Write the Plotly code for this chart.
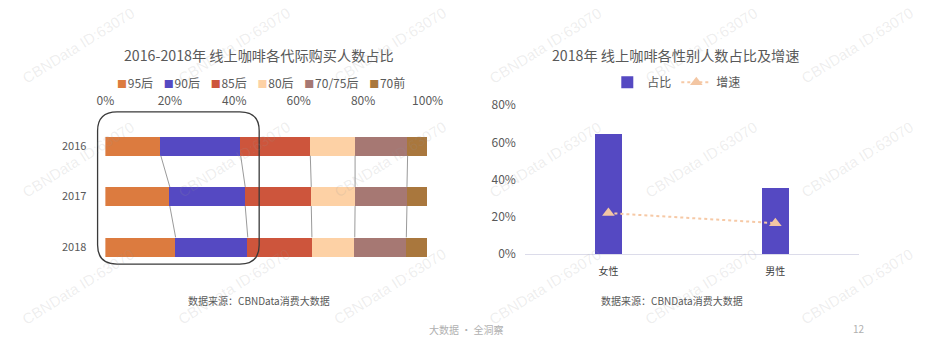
import plotly.graph_objects as go
import numpy as np

# ---------------- data ----------------
years = ['2016', '2017', '2018']
generations = ['95后', '90后', '85后', '80后', '70/75后', '70前']
share_95 = [17.2, 20.0, 21.8]
share_90 = [24.8, 23.4, 22.4]
share_85 = [21.6, 20.5, 19.9]
share_80 = [13.9, 13.6, 13.3]
share_70_75 = [16.3, 16.1, 16.0]
share_70pre = [6.2, 6.4, 6.6]
gen_colors = ['#dc7b3f', '#5549c2', '#cd553c', '#fdd1a5', '#a67873', '#a9773d']

genders = ['女性', '男性']
gender_share = [64.3, 35.7]
gender_growth = [22.1, 16.7]

x_ticks = [0, 20, 40, 60, 80, 100]
y2_ticks = [0, 20, 40, 60, 80]

# ---------------- helpers ----------------
W, H = 942, 351
def px(x):
    return x / W
def py(y):
    return 1 - y / H

FONT = 'Noto Sans CJK SC, Microsoft YaHei, sans-serif'
TXT = '#595959'

fig = go.Figure()

# ---------------- left: stacked bars ----------------
series = [share_95, share_90, share_85, share_80, share_70_75, share_70pre]
ypos = list(range(len(years)))
bw = 0.38
for name, vals, col in zip(generations, series, gen_colors):
    fig.add_trace(go.Bar(
        x=vals, y=ypos, orientation='h', name=name, width=bw,
        marker=dict(color=col, line=dict(width=0)), showlegend=False,
        xaxis='x', yaxis='y', hoverinfo='skip'))

# series connector lines computed from cumulative data
cum = np.cumsum(np.array(series), axis=0)
cx, cy = [], []
for k in range(len(series) - 1):
    for i in range(len(years) - 1):
        cx += [cum[k][i], cum[k][i + 1], None]
        cy += [ypos[i] + bw / 2, ypos[i + 1] - bw / 2, None]
fig.add_trace(go.Scatter(x=cx, y=cy, mode='lines', showlegend=False,
                         line=dict(color='#9a9a9a', width=1),
                         xaxis='x', yaxis='y', hoverinfo='skip'))

# ---------------- right: gender ----------------
fig.add_trace(go.Bar(x=genders, y=gender_share, name='占比', width=0.165,
                     marker=dict(color='#5549c2', line=dict(width=0)),
                     xaxis='x2', yaxis='y2', legend='legend2', hoverinfo='skip'))
fig.add_trace(go.Scatter(x=genders, y=gender_growth, name='增速',
                         mode='lines+markers',
                         line=dict(color='#f6c9a6', width=2, dash='dot'),
                         marker=dict(symbol='triangle-up', size=11, color='#f3c6a3'),
                         xaxis='x2', yaxis='y2', legend='legend2', hoverinfo='skip'))

# ---------------- highlight rounded rectangle ----------------
L, R, T, B, r = 91, 257, 107, 267, 20
pts = lambda x, y: f'{px(x):.5f},{py(y):.5f}'
path = (f'M {pts(L + r, T)} L {pts(R - r, T)} Q {pts(R, T)} {pts(R, T + r)} '
        f'L {pts(R, B - r)} Q {pts(R, B)} {pts(R - r, B)} '
        f'L {pts(L + r, B)} Q {pts(L, B)} {pts(L, B - r)} '
        f'L {pts(L, T + r)} Q {pts(L, T)} {pts(L + r, T)} Z')
fig.add_shape(type='path', path=path, xref='paper', yref='paper',
              line=dict(color='#3a3a3a', width=1.3), fillcolor='rgba(0,0,0,0)')

# ---------------- annotations ----------------
ann = []
ann.append(dict(text='2016-2018年 线上咖啡各代际购买人数占比', x=px(257), y=py(47),
                font=dict(size=14.2, color=TXT)))
ann.append(dict(text='2018年 线上咖啡各性别人数占比及增速', x=px(685), y=py(47),
                font=dict(size=14.2, color=TXT)))
ann.append(dict(text='数据来源：CBNData消费大数据', x=px(257), y=py(305),
                font=dict(size=10, color=TXT)))
ann.append(dict(text='数据来源：CBNData消费大数据', x=px(681), y=py(305),
                font=dict(size=10, color=TXT)))
ann.append(dict(text='大数据 · 全洞察', x=px(469), y=py(336),
                font=dict(size=10, color='#b0b0b0')))
ann.append(dict(text='12', x=px(873), y=py(335),
                font=dict(size=10, color='#b0b0b0')))

# compact legend for the generation chart (built from names / colours)
sep = '\u00a0' * 4
legend_text = sep.join(
    f'<span style="color:{c};font-size:10px">■</span>\u200a{n}'
    for n, c in zip(generations, gen_colors))
ann.append(dict(text=legend_text, x=px(259), y=py(76),
                font=dict(size=12, color=TXT)))

for a in ann:
    a.update(xref='paper', yref='paper', showarrow=False,
             xanchor='center', yanchor='middle')

wm = []
for cxp in [71, 231, 391, 551, 711, 871]:
    for cyp in [37, 157, 291]:
        wm.append(dict(text='CBNData ID:63070', x=px(cxp), y=py(cyp),
                       xref='paper', yref='paper', showarrow=False,
                       textangle=-32, xanchor='center', yanchor='middle',
                       font=dict(size=15, color='rgba(150,150,150,0.16)',
                                 family='Liberation Sans, Arial, sans-serif')))

fig.update_layout(
    width=W, height=H, margin=dict(l=0, r=0, t=0, b=0),
    paper_bgcolor='white', plot_bgcolor='white',
    font=dict(family=FONT, color=TXT),
    barmode='stack', bargap=0,
    annotations=ann + wm,
    xaxis=dict(domain=[px(99), px(430)], range=[0, 100], side='top',
               tickvals=x_ticks, ticktext=[f'{v}%' for v in x_ticks],
               showgrid=False, zeroline=False, showline=False, ticks='',
               ticklabelstandoff=12,
               tickfont=dict(size=12, color=TXT), anchor='y', fixedrange=True),
    yaxis=dict(domain=[py(275.5), py(116.5)], range=[2.5, -0.5],
               tickvals=ypos, ticktext=years, showgrid=False, zeroline=False,
               showline=False, ticks='', ticklabelstandoff=18,
               tickfont=dict(size=11, color=TXT), anchor='x'),
    xaxis2=dict(domain=[px(530), px(873)], anchor='y2', type='category',
                showline=True, linecolor='#dcdcea', linewidth=1,
                showgrid=False, zeroline=False, ticks='', ticklabelstandoff=8,
                tickfont=dict(size=10, color='#404040')),
    yaxis2=dict(domain=[py(256.7), py(100)], anchor='x2', range=[0, 80],
                tickvals=y2_ticks, ticktext=[f'{v}%' for v in y2_ticks],
                showgrid=False, zeroline=False, showline=False, ticks='',
                ticklabelstandoff=8, tickfont=dict(size=12, color=TXT)),
    legend2=dict(orientation='h', x=px(686), y=py(76), xanchor='center',
                 yanchor='middle', font=dict(size=12, color=TXT),
                 itemwidth=30, traceorder='normal', bgcolor='rgba(0,0,0,0)'),
    showlegend=True,
)

fig.write_html('out.html')
